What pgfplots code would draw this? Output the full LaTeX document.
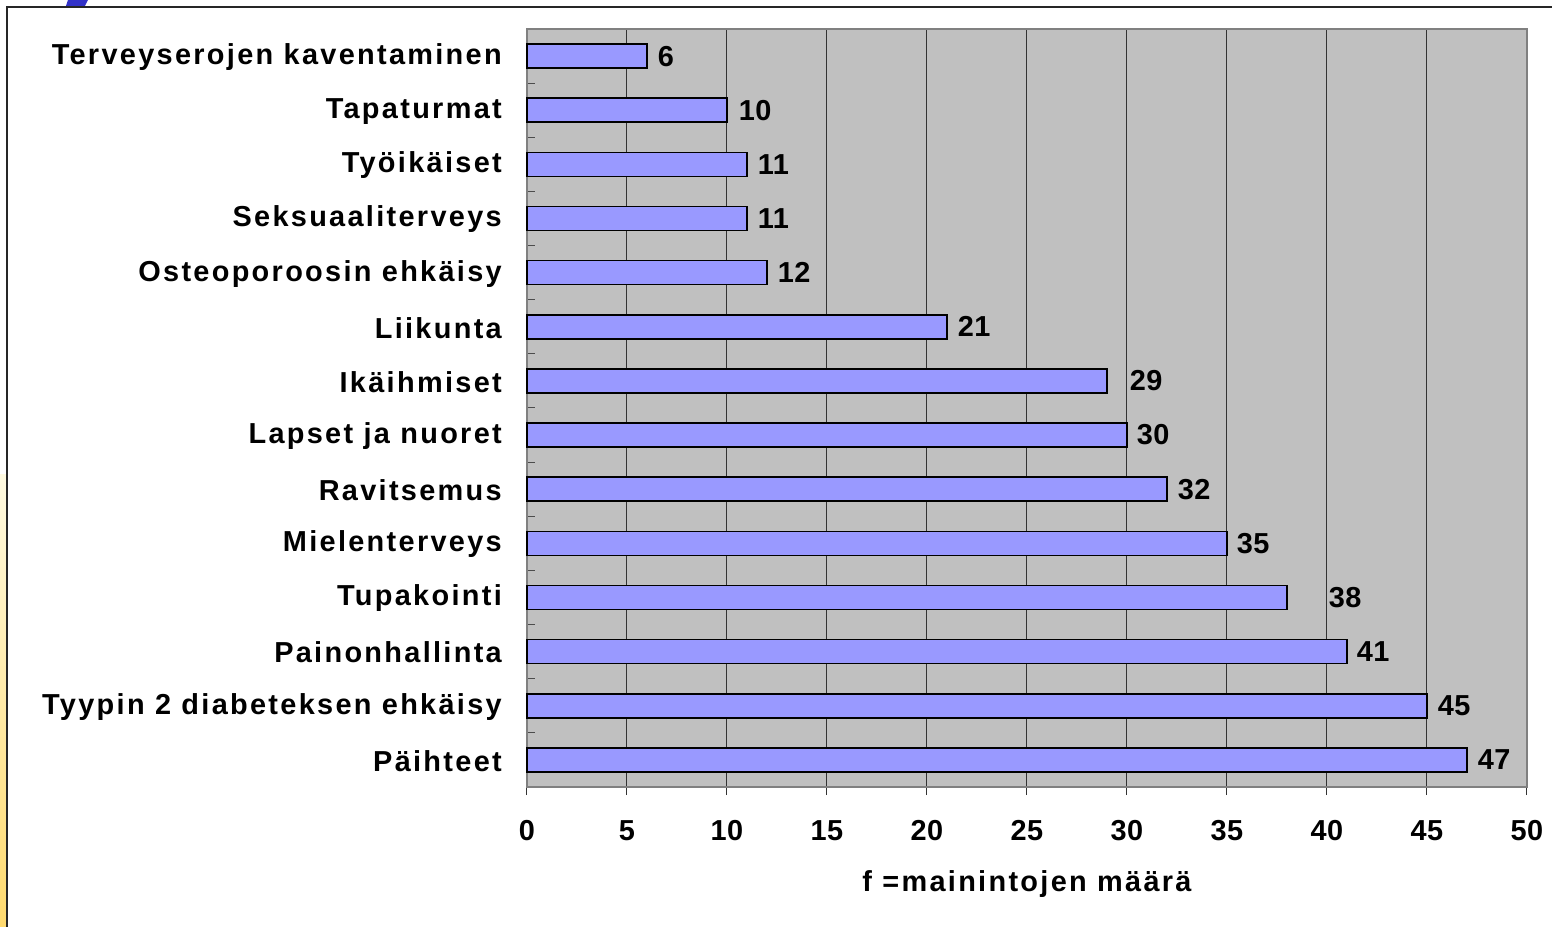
\documentclass[border=0pt]{standalone}
\usepackage{fontspec}
\setmainfont{Liberation Sans}
\newfontfamily\spaced{Liberation Sans}[LetterSpace=8]
\newfontfamily\numfont{Liberation Sans}[LetterSpace=2]
\usepackage{pgfplots}
\pgfplotsset{compat=1.18}
\usepackage{pgfplotstable}
\definecolor{bggray}{HTML}{C0C0C0}
\definecolor{barblue}{HTML}{9999FF}
\definecolor{framegray}{HTML}{808080}
\pgfplotstableread{
val pos sh
47 0 10
45 1 10
41 2 9
38 3 41
35 4 9
32 5 10
30 6 9
29 7 22
21 8 10
12 9 10
11 10 10
11 11 10
10 12 11
6 13 10
}\datatable
\begin{document}
\begin{tikzpicture}
\useasboundingbox (-527bp,-140bp) rectangle (1025bp,787bp);
\shade[top color={rgb,255:red,255;green,250;blue,225}, bottom color={rgb,255:red,255;green,218;blue,110}] (-527bp,-140bp) rectangle (-521bp,312bp);
\fill[color={rgb,255:red,50;green,50;blue,200}] (-459bp,787bp) -- (-439bp,787bp) -- (-442bp,781bp) -- (-461bp,781bp) -- cycle;
\draw[line width=2bp, color=black!85] (-520bp,-140bp) -- (-520bp,780bp) -- (1025bp,780bp);
\begin{axis}[
  at={(0,0)}, anchor=south west,
  scale only axis,
  width=1000bp, height=758bp,
  xmin=0, xmax=50,
  ymin=-0.5, ymax=13.5,
  xbar, bar width=24bp,
  axis background/.style={fill=bggray},
  axis line style={draw=framegray, line width=1.6bp},
  xtick={0,5,...,50},
  ytick={0,1,...,13},
  yticklabels={P\"aihteet,Tyypin 2 diabeteksen ehk\"aisy,Painonhallinta,Tupakointi,Mielenterveys,Ravitsemus,Lapset ja nuoret,Ik\"aihmiset,Liikunta,Osteoporoosin ehk\"aisy,Seksuaaliterveys,Ty\"oik\"aiset,Tapaturmat,Terveyserojen kaventaminen},
  minor ytick={-0.5,0.5,...,13.5},
  xmajorgrids,
  major grid style={draw=black!80, line width=1bp},
  xtick align=outside,
  ytick align=inside,
  tick pos=left,
  major x tick style={draw=black!80, line width=1bp},
  major tick length=8bp,
  major y tick style={draw=none},
  minor y tick style={draw=black!70, line width=1bp},
  minor tick length=8bp,
  /pgf/number format/assume math mode=true,
  xticklabel style={font=\numfont\fontsize{29}{34}\selectfont\bfseries, inner sep=0pt, anchor=north, yshift=-25bp},
  yticklabel style={font=\spaced\fontsize{29}{34}\selectfont\bfseries, inner sep=0pt, anchor=east, xshift=-25bp, yshift=-1bp},
  xlabel={f =mainintojen m\"a\"ar\"a},
  xlabel style={font=\spaced\fontsize{29}{34}\selectfont\bfseries, at={(axis description cs:0.5,0)}, anchor=north, inner sep=0pt, yshift=-83bp},
  nodes near coords,
  visualization depends on={\thisrow{sh} \as \lblshift},
  every node near coord/.append style={font=\numfont\fontsize{29}{34}\selectfont\bfseries, anchor=west, inner sep=0pt, xshift=\lblshift bp, /pgf/number format/assume math mode=true},
  clip=false,
]
\addplot[fill=barblue, draw=black, line width=1.6bp] table[x=val, y=pos] {\datatable};
\end{axis}
\end{tikzpicture}
\end{document}
